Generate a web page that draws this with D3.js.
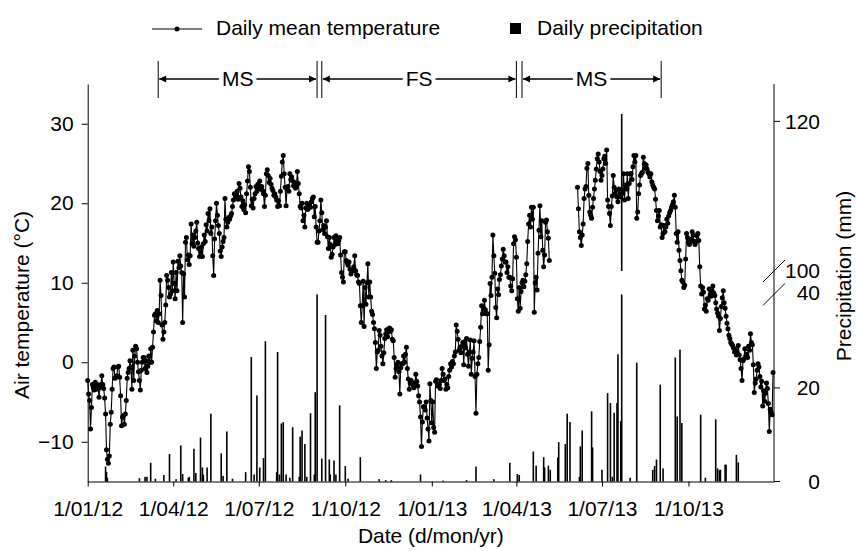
<!DOCTYPE html>
<html>
<head>
<meta charset="utf-8">
<script src="https://cdn.jsdelivr.net/npm/d3@7"></script>
<style>
  body { margin: 0; background: #fff; }
  svg text { font-family: "Liberation Sans", Arial, Helvetica, sans-serif; fill: #000; }
</style>
</head>
<body>
<svg id="chart" width="856" height="551"></svg>
<script>
// ---- Daily mean air temperature (°C), one array per month ----
const temp2012 = [
  /* Jan */ [-2.3,-4.0,-4.8,-8.4,-5.7,-2.8,-3.2,-3.5,-2.5,-3.4,-2.8,-3.0,-4.4,-3.2,-2.8,-1.7,-2.8,-3.3,-4.5,-6.5,-11.0,-12.2,-12.7,-11.8,-7.8,-6.3,-3.4,-0.8,-0.6,-2.0,-1.9],
  /* Feb */ [-1.7,-0.6,-0.5,-1.9,-4.2,-8.0,-6.9,-6.7,-7.8,-6.5,-4.8,-2.0,-1.3,-0.8,0.2,-0.6,-3.4,1.5,-2.3,0.8,2.0,1.7,0.0,-1.2,-2.3,-3.5,-1.0,0.0,0.6],
  /* Mar */ [0.6,-0.8,0.2,-1.3,-0.5,0.8,0.0,1.7,0.0,1.9,3.8,5.9,6.1,5.2,6.5,5.0,6.1,10.3,8.4,4.7,2.9,3.8,5.0,7.2,10.9,10.3,9.4,8.2,8.6,11.3,9.0],
  /* Apr */ [12.6,9.9,8.0,11.3,9.0,12.7,11.9,13.4,12.1,11.3,5.0,11.1,8.2,15.1,15.7,12.9,13.5,12.3,13.4,17.4,14.9,16.0,14.6,15.7,16.5,17.6,15.0,14.3,13.3,13.9],
  /* May */ [14.5,13.3,14.9,16.0,15.2,17.3,16.5,18.7,17.8,19.3,16.2,17.0,13.4,10.9,15.5,17.8,20.0,18.5,17.2,16.2,14.0,13.3,14.5,15.2,15.7,20.6,18.0,17.0,17.6,18.2,18.0],
  /* Jun */ [18.4,18.7,19.6,20.4,21.2,21.0,20.8,21.5,20.5,22.5,21.9,20.8,19.6,20.3,19.2,19.8,18.8,21.2,22.8,24.6,24.0,22.0,19.7,20.5,19.4,20.6,21.2,22.1,21.5,22.4],
  /* Jul */ [22.0,22.8,21.8,22.1,21.6,21.2,19.6,21.0,23.7,24.2,23.5,22.6,23.1,22.4,21.9,21.6,21.0,21.2,20.8,20.4,19.6,20.3,19.7,21.5,23.4,25.2,26.0,23.7,22.0,19.7,21.8],
  /* Aug */ [22.1,21.5,23.7,23.0,23.3,22.8,22.2,22.6,21.9,22.1,24.0,22.5,21.2,19.6,19.4,20.0,17.8,18.5,17.0,19.4,20.0,19.2,19.6,19.8,19.5,20.2,20.6,20.8,18.3,19.6,17.0],
  /* Sep */ [15.1,15.1,16.5,17.8,20.4,18.8,16.7,17.2,16.2,17.0,17.8,15.8,14.3,15.7,14.8,13.2,13.6,14.5,15.7,14.8,15.9,15.2,14.9,15.3,15.7,13.5,11.3,10.7,10.1,13.9],
  /* Oct */ [13.9,12.8,12.5,12.2,12.6,11.7,11.1,11.5,11.5,12.0,13.4,11.5,11.0,10.9,10.1,9.9,7.1,5.0,7.1,10.2,4.5,9.4,7.3,10.0,12.4,8.2,10.1,8.2,6.4,6.0,5.0],
  /* Nov */ [4.2,2.5,-0.8,1.3,1.5,4.0,3.4,2.0,0.8,-0.2,1.2,3.0,3.6,4.1,3.2,3.8,4.3,3.9,4.1,2.9,2.7,0.6,-1.9,-0.8,-0.3,0.0,-1.2,-4.0,-0.7,-0.2],
  /* Dec */ [-0.2,0.8,0.0,1.0,1.9,-0.8,-2.1,-3.4,-2.6,-2.3,-2.6,-2.9,-3.2,-2.8,-1.5,-2.4,-3.0,-4.2,-5.0,-6.9,-10.6,-7.5,-5.6,-5.6,-6.0,-5.0,-7.0,-8.4,-9.9,-2.7,-4.8]
];
const temp2013 = [
  /* Jan */ [-7.6,-5.0,-8.2,-8.8,-2.4,-2.2,-3.0,-2.8,-2.8,-3.3,-2.3,-0.8,-1.5,-2.3,-2.1,-3.4,-2.8,-3.2,-1.8,-1.0,-0.2,-0.6,0.1,-0.2,0.8,1.3,4.7,3.9,2.9,1.5,1.9],
  /* Feb */ [1.2,2.0,2.5,-0.3,2.6,1.8,3.0,1.0,-0.5,1.3,2.8,-1.5,0.5,1.3,2.7,-1.8,-6.4,-1.5,-0.2,0.6,2.6,4.4,7.1,6.1,6.8,7.8,6.6,6.1],
  /* Mar */ [6.1,-1.0,2.2,9.9,8.4,10.7,16.0,13.4,11.2,6.9,5.6,9.2,8.5,10.4,11.0,12.1,13.0,14.2,13.4,12.6,12.6,11.3,12.0,10.7,10.7,9.6,9.0,10.5,14.9,15.8,15.4],
  /* Apr */ [13.2,8.0,6.4,9.4,6.8,8.9,10.0,10.3,9.5,10.2,11.0,12.4,15.2,17.4,18.5,17.0,19.5,18.0,19.5,6.3,10.0,10.7,9.1,13.7,16.6,19.7,15.8,17.8,14.1,12.0],
  /* May */ [13.5,17.6,17.9,16.4,15.6,12.8,null,null,null,null,null,null,null,null,null,null,null,null,null,null,null,null,null,null,null,null,null,null,null,null,null],
  /* Jun */ [null,null,null,null,22.0,19.3,16.4,15.7,14.7,16.0,17.4,20.6,21.8,22.1,24.4,25.0,21.0,18.9,18.5,18.1,19.5,20.6,21.8,22.9,24.3,25.6,26.2,25.2,24.0,22.9],
  /* Jul */ [23.5,24.3,25.6,25.9,25.0,26.7,20.4,19.6,18.7,17.2,19.6,20.9,23.5,22.0,21.2,21.6,20.8,20.2,21.8,21.0,20.8,21.2,21.6,23.7,20.4,22.3,21.8,23.7,20.6,22.5,23.7],
  /* Aug */ [23.7,23.0,24.6,26.0,25.2,26.0,18.1,18.9,21.2,22.3,23.5,23.7,23.9,25.8,25.0,24.4,24.8,24.3,23.9,23.7,23.3,23.7,22.7,22.3,22.0,21.8,20.5,19.1,17.8,18.4,19.1],
  /* Sep */ [17.0,17.3,15.7,16.2,17.2,16.4,17.0,18.0,17.5,18.4,18.8,19.1,19.5,19.8,20.2,21.0,19.5,16.2,15.1,16.4,14.1,12.8,11.5,10.3,10.1,9.4,9.7,13.0,16.2,15.7],
  /* Oct */ [15.1,14.8,15.2,15.5,16.4,16.0,15.2,14.8,15.2,15.9,16.2,15.3,12.0,9.6,8.6,9.4,8.8,6.7,7.2,6.4,8.0,7.8,9.2,8.5,8.3,9.0,9.6,8.7,8.4,7.5,6.7],
  /* Nov */ [6.2,5.8,4.0,5.5,7.0,8.1,9.0,7.5,6.8,5.8,4.9,4.2,3.4,3.0,2.5,2.3,2.1,1.8,1.3,1.6,0.9,1.2,2.1,0.9,0.3,-0.8,-2.3,0.2,0.4,1.7],
  /* Dec */ [0.8,1.0,0.6,2.0,1.5,3.6,2.5,2.2,-0.3,-3.8,-2.6,-2.1,-1.0,-0.2,-0.6,-1.8,-3.1,-2.4,-5.5,-3.6,-4.9,-3.9,-2.6,-3.3,-5.2,-8.7,-5.9,-6.3,-6.6,-1.3]
];

// ---- Daily precipitation (mm), wet days only ----
const rainDates = [
  "2012-01-20","2012-01-21","2012-01-22","2012-02-25","2012-03-02","2012-03-04","2012-03-08","2012-03-13","2012-03-22","2012-03-28",
  "2012-04-04","2012-04-09","2012-04-11","2012-04-17","2012-04-18","2012-04-23","2012-04-25","2012-04-30","2012-05-02","2012-05-03",
  "2012-05-07","2012-05-11","2012-05-22","2012-05-24","2012-05-28","2012-06-03","2012-06-17","2012-06-23","2012-06-26","2012-06-29",
  "2012-07-02","2012-07-06","2012-07-08","2012-07-20","2012-07-21","2012-07-23","2012-07-25","2012-07-27","2012-07-30","2012-08-03",
  "2012-08-06","2012-08-13","2012-08-14","2012-08-16","2012-08-19","2012-08-21","2012-08-25","2012-08-29","2012-08-30","2012-09-01",
  "2012-09-06","2012-09-10","2012-09-14","2012-09-15","2012-09-19","2012-09-21","2012-09-25","2012-10-01","2012-10-04","2012-10-17",
  "2012-11-06","2012-11-13","2012-11-19","2012-12-20","2013-01-13","2013-02-07","2013-02-17","2013-03-08","2013-03-25","2013-04-02",
  "2013-04-04","2013-04-19","2013-04-22","2013-04-30","2013-05-01","2013-05-05","2013-05-07","2013-05-15","2013-05-16","2013-05-23",
  "2013-05-25","2013-05-28","2013-06-07","2013-06-08","2013-06-10","2013-06-20","2013-06-21","2013-07-01","2013-07-07","2013-07-10",
  "2013-07-12","2013-07-14","2013-07-17","2013-07-18","2013-07-21","2013-07-22","2013-07-31","2013-08-07","2013-08-24","2013-08-26",
  "2013-08-28","2013-09-01","2013-09-04","2013-09-17","2013-09-19","2013-09-22","2013-09-24","2013-10-14","2013-10-19","2013-10-30",
  "2013-11-01","2013-11-03","2013-11-04","2013-11-09","2013-11-10","2013-11-21","2013-11-23"
];
const rainMm = [
  3.2,2.0,0.8,0.7,1.0,1.0,4.0,0.6,1.4,5.9,
  0.5,7.7,1.6,0.8,1.0,7.0,1.8,9.4,3.0,1.5,
  3.0,14.5,6.0,1.2,10.7,0.6,2.0,26.6,1.5,18.4,
  3.0,5.0,30.0,2.0,27.7,1.5,12.4,12.7,1.5,0.8,
  11.6,1.0,9.6,10.9,8.0,1.0,14.6,1.5,19.1,40.0,
  4.9,35.6,4.7,1.5,4.5,1.5,16.3,3.3,0.6,5.2,
  0.5,0.3,0.3,1.5,0.2,0.3,3.2,0.5,4.0,1.6,
  1.4,6.4,3.4,5.2,3.0,3.4,2.5,5.1,8.4,8.0,
  14.5,12.7,1.0,7.5,10.9,15.0,7.3,2.5,18.9,16.8,
  1.0,14.7,16.8,27.2,12.9,121.0,0.8,25.4,2.5,3.3,
  4.7,20.7,2.8,26.5,13.9,28.2,12.5,14.3,0.8,13.3,
  2.8,2.4,2.5,3.6,3.6,5.7,4.1
];

// ---- Season periods shown above the plot ----
const periodLabels = ["MS", "FS", "MS"];
const periodStarts = ["2012-03-16", "2012-09-06", "2013-04-07"];
const periodEnds   = ["2012-09-01", "2013-04-01", "2013-09-02"];

// ---- Axis ticks ----
const tempTicks = [-10, 0, 10, 20, 30];
const rainTicksLow = [0, 20, 40];
const rainTicksHigh = [100, 120];

// ------------------------------------------------------------------
const parse = d3.utcParse("%Y-%m-%d");
const svg = d3.select("#chart");
const FONT = 21;

const plotL = 87.7, plotR = 774, plotT = 84, plotB = 481.5;

const x = d3.scaleUtc()
  .domain([new Date(Date.UTC(2012, 0, 1)), new Date(Date.UTC(2013, 11, 31))])
  .range([plotL, plotR]);
const yT = d3.scaleLinear().domain([-15, 35]).range([plotB, plotT]);
// precipitation axis is broken: 0–40 mm below, 100–125 mm above
const yP = d3.scaleLinear().domain([0, 40]).range([plotB, 294.4]);
const yPu = d3.scaleLinear().domain([100, 125]).range([271, plotT]);

// flatten monthly arrays into dated points
const tempPoints = [];
[[2012, temp2012], [2013, temp2013]].forEach(([yr, months]) => {
  months.forEach((arr, m) => {
    arr.forEach((v, d) => {
      tempPoints.push({ date: new Date(Date.UTC(yr, m, d + 1)), v });
    });
  });
});
const rain = rainDates.map((d, i) => ({ date: parse(d), v: rainMm[i] }));

// ---- precipitation bars ----
const barW = 1.6;
const bars = svg.append("g");
bars.selectAll("rect.low").data(rain).join("rect")
  .attr("class", "low")
  .attr("x", d => x(d.date) - barW / 2)
  .attr("width", barW)
  .attr("y", d => yP(Math.min(d.v, 40)))
  .attr("height", d => yP(0) - yP(Math.min(d.v, 40)))
  .attr("fill", "#000");
bars.selectAll("rect.high").data(rain.filter(d => d.v > 100)).join("rect")
  .attr("class", "high")
  .attr("x", d => x(d.date) - barW / 2)
  .attr("width", barW)
  .attr("y", d => yPu(d.v))
  .attr("height", d => yPu(100) - yPu(d.v))
  .attr("fill", "#000");

// ---- temperature line + dots ----
const line = d3.line()
  .defined(d => d.v !== null)
  .x(d => x(d.date))
  .y(d => yT(d.v));
svg.append("path")
  .datum(tempPoints)
  .attr("d", line)
  .attr("fill", "none")
  .attr("stroke", "#000")
  .attr("stroke-width", 1.1);
svg.append("g").selectAll("circle")
  .data(tempPoints.filter(d => d.v !== null))
  .join("circle")
  .attr("cx", d => x(d.date))
  .attr("cy", d => yT(d.v))
  .attr("r", 2.5)
  .attr("fill", "#000");

// ---- bottom axis ----
const xAxis = d3.axisBottom(x)
  .tickValues(d3.utcMonth.every(3).range(new Date(Date.UTC(2012, 0, 1)), new Date(Date.UTC(2013, 11, 2))))
  .tickFormat(d3.utcFormat("%-d/%m/%y"))
  .tickSize(5)
  .tickSizeOuter(0)
  .tickPadding(15);
const gx = svg.append("g").attr("transform", `translate(0,${plotB})`).call(xAxis);
gx.attr("font-family", null).attr("font-size", null);
gx.selectAll("text").attr("font-size", FONT);
gx.selectAll("path, line").attr("stroke", "#000");

// ---- left axis ----
const yAxis = d3.axisLeft(yT)
  .tickValues(tempTicks)
  .tickSize(6)
  .tickSizeOuter(0)
  .tickPadding(8);
const gy = svg.append("g").attr("transform", `translate(${plotL},0)`).call(yAxis);
gy.attr("font-family", null).attr("font-size", null);
gy.selectAll("text").attr("font-size", FONT);
gy.selectAll("path, line").attr("stroke", "#000");

// ---- right (broken) axis ----
const gr = svg.append("g");
gr.append("line").attr("x1", plotR).attr("x2", plotR).attr("y1", plotT).attr("y2", plotB).attr("stroke", "#000");
gr.append("line").attr("x1", plotR).attr("x2", plotR + 6).attr("y1", yP(0)).attr("y2", yP(0)).attr("stroke", "#000");
[[yP, 20], [yPu, 120]].forEach(([s, v]) => {
  gr.append("line").attr("x1", plotR).attr("x2", plotR + 6).attr("y1", s(v)).attr("y2", s(v)).attr("stroke", "#000");
});
const rightLabels = rainTicksLow.map(v => ({ v, y: yP(v) - (v === 40 ? 2 : 0) }))
  .concat(rainTicksHigh.map(v => ({ v, y: yPu(v) })));
gr.selectAll("text").data(rightLabels).join("text")
  .attr("x", 820).attr("y", d => d.y).attr("dy", "0.35em")
  .attr("text-anchor", "end").attr("font-size", FONT)
  .text(d => d.v);
// break marks
[yPu(100), yP(40)].forEach(yy => {
  gr.append("line")
    .attr("x1", plotR - 11).attr("y1", yy + 11)
    .attr("x2", plotR + 11).attr("y2", yy - 11)
    .attr("stroke", "#000").attr("stroke-width", 1);
});

// ---- axis titles ----
svg.append("text")
  .attr("transform", "translate(29,305) rotate(-90)")
  .attr("text-anchor", "middle").attr("font-size", FONT)
  .text("Air temperature (°C)");
svg.append("text")
  .attr("transform", "translate(851,276) rotate(-90)")
  .attr("text-anchor", "middle").attr("font-size", FONT)
  .text("Precipitation (mm)");
svg.append("text")
  .attr("x", (plotL + plotR) / 2).attr("y", 543)
  .attr("text-anchor", "middle").attr("font-size", FONT)
  .text("Date (d/mon/yr)");

// ---- legend ----
const lg = svg.append("g");
lg.append("line").attr("x1", 152).attr("x2", 202).attr("y1", 29).attr("y2", 29).attr("stroke", "#000");
lg.append("circle").attr("cx", 177).attr("cy", 29).attr("r", 2.5).attr("fill", "#000");
lg.append("text").attr("x", 216).attr("y", 35).attr("font-size", FONT).text("Daily mean temperature");
lg.append("rect").attr("x", 510).attr("y", 23).attr("width", 11).attr("height", 11).attr("fill", "#000");
lg.append("text").attr("x", 537).attr("y", 35).attr("font-size", FONT).text("Daily precipitation");

// ---- season brackets ----
const pg = svg.append("g");
const yArrow = 79, yTop = 61, yBot = 98;
periodLabels.forEach((lab, i) => {
  const x0 = x(parse(periodStarts[i])), x1 = x(parse(periodEnds[i]));
  const mid = (x0 + x1) / 2;
  [x0, x1].forEach(xx => pg.append("line").attr("x1", xx).attr("x2", xx).attr("y1", yTop).attr("y2", yBot).attr("stroke", "#000"));
  const t = pg.append("text").attr("x", mid).attr("y", yArrow).attr("dy", "0.35em")
    .attr("text-anchor", "middle").attr("font-size", FONT).text(lab);
  const w = t.node().getComputedTextLength();
  const gap = 3;
  pg.append("line").attr("x1", x0 + 1).attr("x2", mid - w / 2 - gap).attr("y1", yArrow).attr("y2", yArrow).attr("stroke", "#000").attr("stroke-width", 1.3);
  pg.append("line").attr("x1", mid + w / 2 + gap).attr("x2", x1 - 1).attr("y1", yArrow).attr("y2", yArrow).attr("stroke", "#000").attr("stroke-width", 1.3);
  pg.append("path").attr("d", `M${x0 + 1},${yArrow} l7,-3.5 l0,7 z`).attr("fill", "#000");
  pg.append("path").attr("d", `M${x1 - 1},${yArrow} l-7,-3.5 l0,7 z`).attr("fill", "#000");
});
</script>
</body>
</html>
